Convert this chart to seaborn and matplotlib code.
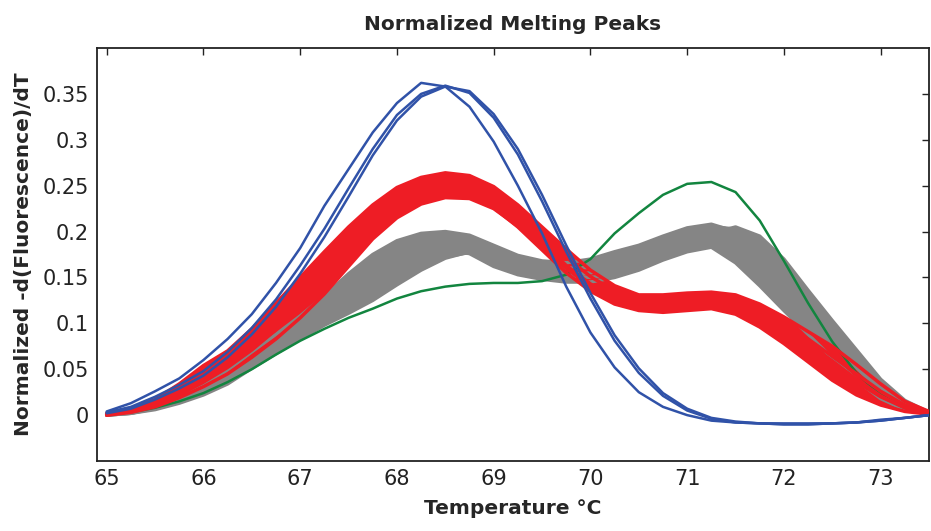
import numpy as np
import pandas as pd
import matplotlib
matplotlib.use("Agg")
import matplotlib.pyplot as plt
import seaborn as sns

# temperature grid the curves were read at (deg C)
temps = [65.0, 65.25, 65.5, 65.75, 66.0, 66.25, 66.5, 66.75, 67.0, 67.25, 67.5, 67.75,
         68.0, 68.25, 68.5, 68.75, 69.0, 69.25, 69.5, 69.75, 70.0, 70.25, 70.5, 70.75,
         71.0, 71.25, 71.5, 71.75, 72.0, 72.25, 72.5, 72.75, 73.0, 73.25, 73.5]

# blue group (single low-Tm peak)
blue_1 = [.004, .013, .026, .040, .060, .083, .110, .144, .182, .228, .268, .308,
          .340, .362, .358, .336, .298, .250, .198, .140, .090, .052, .025, .009,
          .000, -.006, -.008, -.009, -.009, -.009, -.009, -.008, -.005, -.003, .000]
blue_2 = [.003, .009, .020, .033, .048, .069, .095, .126, .163, .203, .247, .290,
          .327, .350, .359, .351, .324, .284, .233, .178, .127, .081, .046, .021,
          .005, -.004, -.008, -.009, -.010, -.010, -.009, -.008, -.006, -.003, .000]
blue_3 = [.002, .007, .017, .029, .043, .063, .088, .118, .154, .194, .238, .283,
          .321, .347, .358, .353, .328, .290, .240, .185, .133, .087, .051, .024,
          .007, -.003, -.007, -.009, -.010, -.010, -.009, -.008, -.006, -.003, .000]

# red group (big first peak, shoulder at ~71)
red_1 = [.002, .007, .017, .034, .054, .070, .094, .122, .150, .178, .205, .229,
         .248, .259, .264, .261, .249, .229, .205, .181, .158, .141, .131, .131,
         .133, .134, .131, .121, .107, .091, .075, .055, .034, .015, .004]
red_2 = [.001, .006, .015, .030, .047, .064, .086, .111, .138, .167, .195, .220,
         .240, .253, .258, .255, .243, .222, .197, .172, .151, .135, .126, .125,
         .127, .129, .126, .115, .100, .083, .064, .045, .026, .011, .003]
red_3 = [.001, .005, .013, .026, .041, .058, .078, .102, .128, .156, .185, .211,
         .231, .245, .251, .248, .235, .214, .189, .163, .143, .128, .120, .118,
         .120, .122, .119, .107, .091, .073, .054, .036, .020, .008, .002]
red_4 = [.000, .004, .011, .022, .036, .052, .071, .093, .117, .145, .174, .201,
         .222, .236, .243, .240, .226, .205, .180, .155, .135, .121, .114, .112,
         .114, .116, .110, .096, .078, .058, .038, .022, .011, .004, .001]
red_5 = [.000, .003, .009, .019, .031, .045, .063, .083, .106, .132, .162, .192,
         .215, .230, .237, .236, .225, .206, .183, .160, .140, .126, .119, .117,
         .119, .121, .118, .108, .094, .078, .059, .039, .021, .008, .002]

# gray group (two peaks)
gray_1 = [.001, .004, .010, .019, .032, .049, .069, .088, .108, .130, .154, .175,
          .190, .198, .200, .196, .185, .174, .168, .166, .170, .178, .185, .195,
          .204, .208, .200, .178, .146, .112, .080, .052, .027, .010, .002]
gray_2 = [.001, .003, .009, .017, .029, .044, .062, .081, .100, .121, .145, .167,
          .183, .193, .197, .194, .184, .172, .164, .160, .161, .169, .179, .190,
          .199, .203, .198, .180, .152, .120, .088, .058, .030, .011, .002]
gray_3 = [.000, .002, .008, .015, .026, .040, .057, .075, .093, .112, .134, .156,
          .173, .185, .191, .188, .176, .164, .156, .153, .155, .162, .172, .183,
          .193, .198, .192, .172, .142, .110, .080, .052, .027, .010, .002]
gray_4 = [.000, .002, .007, .014, .024, .037, .054, .071, .088, .104, .122, .142,
          .160, .173, .180, .176, .162, .153, .148, .145, .145, .150, .158, .169,
          .178, .183, .166, .141, .114, .088, .062, .038, .018, .006, .001]
gray_5 = [.000, .002, .006, .013, .022, .034, .051, .067, .083, .098, .111, .125,
          .142, .158, .171, .178, .178, .170, .160, .152, .150, .153, .162, .175,
          .188, .198, .205, .195, .170, .136, .103, .071, .039, .016, .003]

# green (single curve, high-Tm peak)
green_1 = [.001, .003, .008, .015, .024, .036, .050, .066, .081, .094, .106, .116,
           .127, .135, .140, .143, .144, .144, .146, .153, .170, .198, .220, .240,
           .252, .254, .243, .212, .168, .122, .080, .046, .022, .008, .002]

groups = {
    "gray": [gray_1, gray_2, gray_3, gray_4, gray_5],
    "green": [green_1],
    "red": [red_1, red_2, red_3, red_4, red_5],
    "blue": [blue_1, blue_2, blue_3],
}
colors = {"gray": "#858585", "green": "#12853f", "red": "#ee1d25", "blue": "#3052a8"}
widths = {"gray": 2.5, "green": 1.8, "red": 2.5, "blue": 1.8}

rows = []
for g, curves in groups.items():
    for i, c in enumerate(curves):
        for t, v in zip(temps, c):
            rows.append({"temp": t, "value": v, "group": g, "curve": f"{g}{i}"})
df = pd.DataFrame(rows)

sns.set_style("white")
plt.rcParams["font.family"] = ["DejaVu Sans"]

fig = plt.figure(figsize=(9.31, 5.31), dpi=100)
ax = fig.add_axes([0.1042, 0.1318, 0.8937, 0.7778])

for g in ["gray", "green", "red", "blue"]:
    sub = df[df["group"] == g]
    if g in ("gray", "red"):
        arr = np.array(groups[g])
        ax.fill_between(temps, arr.min(axis=0), arr.max(axis=0),
                        color=colors[g], linewidth=0, zorder=2)
    sns.lineplot(data=sub, x="temp", y="value", units="curve", estimator=None,
                 color=colors[g], linewidth=widths[g], ax=ax, legend=False,
                 zorder=3, solid_joinstyle="round")

ax.set_xlim(64.9, 73.5)
ax.set_ylim(-0.05, 0.40)
ax.set_xticks([65, 66, 67, 68, 69, 70, 71, 72, 73])
ax.set_yticks([0, 0.05, 0.1, 0.15, 0.2, 0.25, 0.3, 0.35])
ax.set_yticklabels(["0", "0.05", "0.1", "0.15", "0.2", "0.25", "0.3", "0.35"])
ax.tick_params(direction="in", length=5, width=1, labelsize=15, colors="#222222",
               top=True, right=True, pad=6)
for s in ax.spines.values():
    s.set_color("#222222")
    s.set_linewidth(1.3)

ax.set_title("Normalized Melting Peaks", fontsize=14.5, fontweight="bold", pad=13)
ax.set_xlabel("Temperature °C", fontsize=14.5, fontweight="bold", labelpad=7)
ax.set_ylabel("Normalized -d(Fluorescence)/dT", fontsize=14.5, fontweight="bold",
              labelpad=7)

fig.savefig("out.png", dpi=100)
